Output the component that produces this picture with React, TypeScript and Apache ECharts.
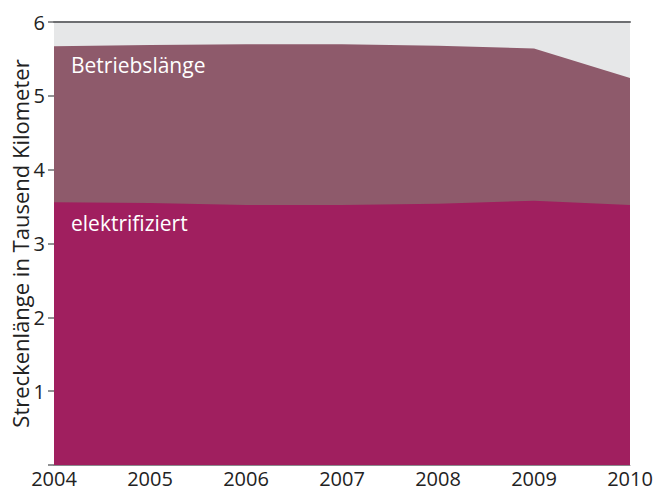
import React, { useEffect, useRef } from "react";
import * as echarts from "echarts";

const years = ["2004", "2005", "2006", "2007", "2008", "2009", "2010"];
const betriebslaenge = [5.67, 5.69, 5.70, 5.70, 5.68, 5.64, 5.24];
const elektrifiziert = [3.56, 3.55, 3.52, 3.52, 3.54, 3.58, 3.52];
const yAxisName = "Streckenlänge in Tausend Kilometer";
const seriesLabels = ["Betriebslänge", "elektrifiziert"];

const FONT = "'Open Sans', 'Noto Sans', sans-serif";

export default function App() {
  const ref = useRef<HTMLDivElement>(null);
  useEffect(() => {
    if (!ref.current) return;
    const chart = echarts.init(ref.current, undefined, { renderer: "svg" });
    chart.setOption({
      animation: false,
      grid: {
        left: 54,
        right: 26,
        top: 22,
        bottom: 26,
        containLabel: false,
        outerBoundsMode: "none",
        show: true,
        backgroundColor: "#e6e7e8",
        borderWidth: 0,
      },
      xAxis: [
        {
          type: "category",
          data: years,
          boundaryGap: false,
          axisLine: { show: true, lineStyle: { color: "#8a8a8d", width: 1 } },
          axisTick: { show: false },
          axisLabel: { color: "#222", fontSize: 20, fontFamily: FONT, margin: 3 },
        },
        {
          type: "category",
          data: years,
          position: "top",
          boundaryGap: false,
          axisLine: { show: true, lineStyle: { color: "#6d6e71", width: 2 } },
          axisTick: { show: false },
          axisLabel: { show: false },
        },
      ],
      yAxis: {
        type: "value",
        min: 0,
        max: 6,
        interval: 1,
        name: yAxisName,
        nameLocation: "middle",
        nameGap: 23,
        nameMoveOverlap: false,
        nameTextStyle: { color: "#222", fontSize: 22, fontFamily: FONT },
        axisLine: { show: false },
        axisTick: { show: true, length: 6, lineStyle: { color: "#6d6e71", width: 1.5 } },
        splitLine: { show: false },
        axisLabel: {
          color: "#222",
          fontSize: 20,
          fontFamily: FONT,
          margin: 9,
          formatter: (v: number) => (v === 0 ? "" : String(v)),
        },
      },
      series: [
        {
          name: seriesLabels[0],
          type: "line",
          data: betriebslaenge,
          symbol: "none",
          lineStyle: { width: 0 },
          areaStyle: { color: "#8e5a6b", opacity: 1 },
          z: 2,
        },
        {
          name: seriesLabels[1],
          type: "line",
          data: elektrifiziert,
          symbol: "none",
          lineStyle: { width: 0 },
          areaStyle: { color: "#a01f5f", opacity: 1 },
          z: 3,
        },
      ],
      graphic: [
        {
          type: "text",
          left: 71,
          top: 54,
          z: 10,
          style: { text: seriesLabels[0], fill: "#fff", fontSize: 21, fontFamily: FONT },
        },
        {
          type: "text",
          left: 71,
          top: 212,
          z: 10,
          style: { text: seriesLabels[1], fill: "#fff", fontSize: 21, fontFamily: FONT },
        },
      ],
    });
    return () => chart.dispose();
  }, []);
  return (
    <div
      ref={ref}
      style={{ position: "absolute", left: 0, top: 0, width: 656, height: 491 }}
    />
  );
}
